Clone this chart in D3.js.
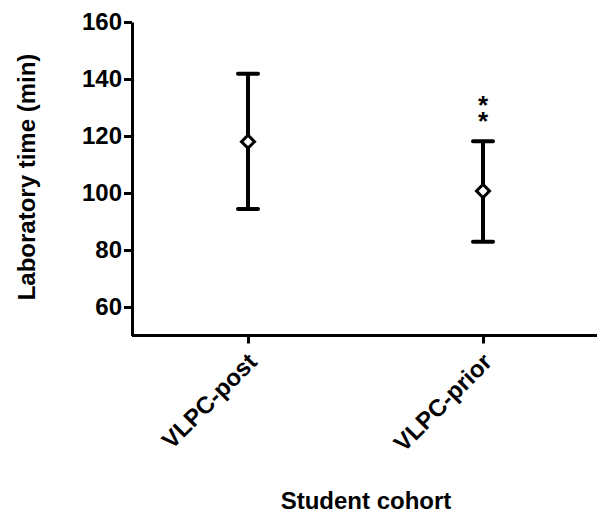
<!DOCTYPE html>
<html lang="en">
<head>
<meta charset="utf-8">
<title>Laboratory time by cohort</title>
<script src="https://d3js.org/d3.v7.min.js"></script>
<style>
  body { margin: 0; background: #fff; }
  svg text { font-family: "Liberation Sans", Arial, sans-serif; font-weight: bold; fill: #000; }
</style>
</head>
<body>
<svg id="chart"></svg>
<script>
const width = 597;
const height = 516;

// data
const cohorts = ["VLPC-post", "VLPC-prior"];
const means = [118, 100.7];
const upper = [141.8, 118.2];
const lower = [94.4, 82.9];
const marks = ["", "**"];
const yTicks = [60, 80, 100, 120, 140, 160];

const margin = {top: 22, right: 0, bottom: 180, left: 132};

const svg = d3.select("#chart")
    .attr("width", width)
    .attr("height", height);

const y = d3.scaleLinear()
    .domain([50, 160])
    .range([height - margin.bottom - 0.5, margin.top]);

const x = d3.scalePoint()
    .domain(cohorts)
    .range([248, 483]);

// y axis
const yAxis = svg.append("g")
    .attr("transform", `translate(${margin.left},0)`)
    .call(d3.axisLeft(y).tickValues(yTicks).tickSize(8).tickSizeOuter(0).tickPadding(2));
yAxis.select(".domain").attr("stroke-width", 3);
yAxis.selectAll(".tick line").attr("stroke-width", 3);
yAxis.selectAll(".tick text")
    .attr("font-size", 24)
    .attr("font-weight", "bold")
    .attr("font-family", "Liberation Sans, Arial, sans-serif");

// x axis
const xBase = y(50);
const xAxis = svg.append("g")
    .attr("transform", `translate(0,${xBase})`)
    .call(d3.axisBottom(x).tickSize(8).tickSizeOuter(0));
xAxis.select(".domain").attr("d", `M${margin.left},0H${width}`).attr("stroke-width", 3);
xAxis.selectAll(".tick line").attr("stroke-width", 3);
xAxis.selectAll(".tick text")
    .attr("font-size", 24)
    .attr("font-weight", "bold")
    .attr("font-family", "Liberation Sans, Arial, sans-serif")
    .attr("text-anchor", "end")
    .attr("dy", "0.35em")
    .attr("transform", "translate(4,22) rotate(-45)")
    .attr("y", 0)
    .attr("x", 0);

// error bars
const bars = svg.selectAll(".bar")
    .data(cohorts)
    .enter()
    .append("g")
    .attr("class", "bar");

bars.append("line")
    .attr("x1", d => x(d)).attr("x2", d => x(d))
    .attr("y1", (d, i) => y(upper[i]))
    .attr("y2", (d, i) => y(lower[i]))
    .attr("stroke", "#000").attr("stroke-width", 4);

bars.append("line")
    .attr("x1", d => x(d) - 10).attr("x2", d => x(d) + 10)
    .attr("y1", (d, i) => y(upper[i])).attr("y2", (d, i) => y(upper[i]))
    .attr("stroke", "#000").attr("stroke-width", 4).attr("stroke-linecap", "round");

bars.append("line")
    .attr("x1", d => x(d) - 10).attr("x2", d => x(d) + 10)
    .attr("y1", (d, i) => y(lower[i])).attr("y2", (d, i) => y(lower[i]))
    .attr("stroke", "#000").attr("stroke-width", 4).attr("stroke-linecap", "round");

bars.append("path")
    .attr("d", d3.symbol(d3.symbolSquare, 85))
    .attr("transform", (d, i) => `translate(${x(d)},${y(means[i])}) rotate(45)`)
    .attr("fill", "#fff")
    .attr("stroke", "#000")
    .attr("stroke-width", 3);

// significance marks, stacked in one text element
bars.filter((d, i) => marks[i].length > 0)
    .append("text")
    .attr("text-anchor", "middle")
    .attr("font-size", 26)
    .each(function(d) {
        const i = cohorts.indexOf(d);
        const t = d3.select(this);
        const chars = marks[i].split("");
        chars.forEach((m, k) => {
            t.append("tspan")
                .attr("x", x(d))
                .attr("y", y(upper[i]) - 11 - (chars.length - 1 - k) * 16)
                .text(m);
        });
    });

// axis titles
svg.append("text")
    .attr("transform", `translate(35,177) rotate(-90)`)
    .attr("text-anchor", "middle")
    .attr("font-size", 24)
    .text("Laboratory time (min)");

svg.append("text")
    .attr("x", 366)
    .attr("y", 509)
    .attr("text-anchor", "middle")
    .attr("font-size", 24)
    .text("Student cohort");
</script>
</body>
</html>
